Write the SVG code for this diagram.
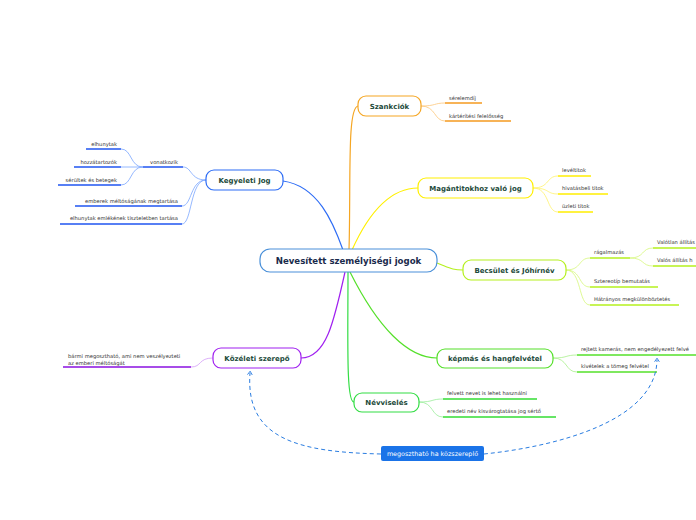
<svg xmlns="http://www.w3.org/2000/svg" width="696" height="520" viewBox="0 0 696 520">
<defs>
<style>
.node{fill:#fff;stroke-width:1.2}
.nt{font-family:"DejaVu Sans",Verdana,sans-serif;font-weight:bold;font-size:7px;fill:#1c4a3a;text-anchor:middle}
.ct{font-family:"DejaVu Sans",Verdana,sans-serif;font-size:5.2px;fill:#333}
.ctr{font-family:"DejaVu Sans",Verdana,sans-serif;font-size:5.2px;fill:#333;text-anchor:end}
.main{fill:none;stroke-width:1.2}
.sub{fill:none;stroke-width:0.8}
.ul{fill:none;stroke-width:1.5}
.dash{fill:none;stroke:#2a7de1;stroke-width:1;stroke-dasharray:4,3}
</style>
<marker id="arr" viewBox="0 0 10 10" refX="5" refY="5" markerWidth="6" markerHeight="6" orient="auto">
<path d="M2,1 L8,5 L2,9" fill="none" stroke="#2a7de1" stroke-width="1.5"/>
</marker>
</defs>
<rect width="696" height="520" fill="#fff"/>
<g id="connectors">
<path class="main" stroke="#2d6cf5" d="M283,181 C318,186 333,222 343,250"/>
<path class="main" stroke="#f5a623" d="M349,250 C351,180 347,108 358,106"/>
<path class="main" stroke="#fff000" d="M352,250 C370,210 392,188 418,188"/>
<path class="main" stroke="#b5f01e" d="M437,263 C450,268 452,270 463,270"/>
<path class="main" stroke="#55e02a" d="M350,272 C378,328 408,358 437,358"/>
<path class="main" stroke="#33dd44" d="M348,272 C348,340 346,402 354,402"/>
<path class="main" stroke="#a020f0" d="M345,272 C334,322 326,358 301,358"/>
<!-- Kegyeleti children -->
<g stroke="#7aa6ff" class="sub">
<path d="M206,180 C190,180 192,167 183,167"/>
<path d="M206,180 C190,180 192,206 182,206"/>
<path d="M206,180 C190,180 192,224 182,224"/>
<path d="M143,167 C130,167 132,149 121,149"/>
<path d="M143,167 L121,167"/>
<path d="M143,167 C130,167 132,185 121,185"/>
</g>
<g stroke="#1f55f0" class="ul">
<path d="M143,167 H183"/>
<path d="M75,206 H182"/>
<path d="M60,224 H182"/>
<path d="M86,149 H121"/>
<path d="M74,167 H121"/>
<path d="M58,185 H121"/>
</g>
<!-- Szankciók children -->
<g stroke="#fcc77a" class="sub">
<path d="M421,106 C436,106 434,103 445,103"/>
<path d="M421,106 C436,106 434,121 445,121"/>
</g>
<g stroke="#f59a1f" class="ul">
<path d="M445,103 H482"/>
<path d="M445,121 H511"/>
</g>
<!-- Magán children -->
<g stroke="#fff36a" class="sub">
<path d="M533,188 C550,188 546,176 558,176"/>
<path d="M533,188 C550,188 546,194 558,194"/>
<path d="M533,188 C550,188 546,212 558,212"/>
</g>
<g stroke="#ffee00" class="ul">
<path d="M558,176 H591"/>
<path d="M558,194 H608"/>
<path d="M558,212 H593"/>
</g>
<!-- Becsület children -->
<g stroke="#d5f77a" class="sub">
<path d="M566,270 C582,270 578,258 590,258"/>
<path d="M566,270 C582,270 578,287 590,287"/>
<path d="M566,270 C582,270 578,305 590,305"/>
<path d="M630,258 C645,258 641,248 653,248"/>
<path d="M630,258 C645,258 641,266 653,266"/>
</g>
<g stroke="#b5f01e" class="ul">
<path d="M590,258 H630"/>
<path d="M590,287 H658"/>
<path d="M590,305 H679"/>
<path d="M653,248 H696"/>
<path d="M653,266 H696"/>
</g>
<!-- Képmás children -->
<g stroke="#a8f08a" class="sub">
<path d="M553,358 C568,358 565,355 577,355"/>
<path d="M553,358 C568,358 565,372 577,372"/>
</g>
<g stroke="#55e02a" class="ul">
<path d="M577,355 H696"/>
<path d="M577,372 H657"/>
</g>
<!-- Névviselés children -->
<g stroke="#99ee99" class="sub">
<path d="M419,402 C434,402 431,399 443,399"/>
<path d="M419,402 C434,402 431,417 443,417"/>
</g>
<g stroke="#33dd33" class="ul">
<path d="M443,399 H537"/>
<path d="M443,417 H556"/>
</g>
<!-- Közéleti children -->
<path class="sub" stroke="#d39cf7" d="M213,358 C198,358 202,367 191,367"/>
<path class="ul" stroke="#8a10e0" d="M63,367 H191"/>
<!-- dashed relations -->
<path class="dash" d="M381,454 C300,452 245,440 250,373" marker-end="url(#arr)"/>
<path class="dash" d="M484,454 C560,446 656,420 657,360" marker-end="url(#arr)"/>
</g>
<g id="central">
<rect x="260" y="249" width="177" height="23" rx="10" fill="#fff" stroke="#4a90d9" stroke-width="1.2"/>
<text x="348.5" y="264" font-family="DejaVu Sans,Verdana,sans-serif" font-weight="bold" font-size="8.6" fill="#1a2b4c" text-anchor="middle">Nevesített személyiségi jogok</text>
</g>
<g id="kegyeleti">
<rect class="node" x="206" y="170" width="77" height="20" rx="8" stroke="#2d6cf5"/>
<text class="nt" x="244.5" y="182.5">Kegyeleti Jog</text>
</g>
<g id="kegyeleti-children">
<text class="ctr" x="178" y="164">vonatkozik</text>
<text class="ctr" x="117" y="146">elhunytak</text>
<text class="ctr" x="117" y="164">hozzátartozók</text>
<text class="ctr" x="117" y="182">sérültek és betegek</text>
<text class="ctr" x="178" y="203">emberek méltóságának megtartása</text>
<text class="ctr" x="178" y="220">elhunytak emlékének tiszteletben tartása</text>
</g>
<g id="szankciok">
<rect class="node" x="358" y="96" width="63" height="20" rx="8" stroke="#f5a623"/>
<text class="nt" x="389.5" y="108.5">Szankciók</text>
</g>
<g id="szankciok-children">
<text class="ct" x="449" y="100">sérelemdíj</text>
<text class="ct" x="449" y="118">kártérítési felelősség</text>
</g>
<g id="magantitok">
<rect class="node" x="418" y="178" width="115" height="20" rx="8" stroke="#fff000"/>
<text class="nt" x="475.5" y="190.5">Magántitokhoz való jog</text>
</g>
<g id="magantitok-children">
<text class="ct" x="562" y="172">levéltitok</text>
<text class="ct" x="562" y="190">hivatásbeli titok</text>
<text class="ct" x="562" y="208">üzleti titok</text>
</g>
<g id="becsulet">
<rect class="node" x="463" y="260" width="103" height="20" rx="8" stroke="#b5f01e"/>
<text class="nt" x="514.5" y="272.5">Becsület és Jóhírnév</text>
</g>
<g id="becsulet-children">
<text class="ct" x="594" y="254">rágalmazás</text>
<text class="ct" x="657" y="244">Valótlan állítás</text>
<text class="ct" x="657" y="262">Valós állítás h</text>
<text class="ct" x="594" y="283">Sztereotíp bemutatás</text>
<text class="ct" x="594" y="301">Hátrányos megkülönböztetés</text>
</g>
<g id="kepmas">
<rect class="node" x="437" y="349" width="116" height="19" rx="8" stroke="#55e02a"/>
<text class="nt" x="495" y="361">képmás és hangfelvétel</text>
</g>
<g id="kepmas-children">
<text class="ct" x="581" y="351">rejtett kamerás, nem engedélyezett felvé</text>
<text class="ct" x="581" y="368">kivételek a tömeg felvétel</text>
</g>
<g id="nevviseles">
<rect class="node" x="354" y="393" width="65" height="19" rx="8" stroke="#33dd44"/>
<text class="nt" x="386.5" y="405">Névviselés</text>
</g>
<g id="nevviseles-children">
<text class="ct" x="447" y="395">felvett nevet is lehet használni</text>
<text class="ct" x="447" y="413">eredeti név kisvárogtatása jog sértő</text>
</g>
<g id="kozeleti">
<rect class="node" x="213" y="348" width="88" height="20" rx="8" stroke="#a020f0"/>
<text class="nt" x="257" y="360.5">Közéleti szerepő</text>
</g>
<g id="kozeleti-children">
<text class="ct" x="68" y="358">bármi megosztható, ami nem veszélyezteti</text>
<text class="ct" x="68" y="364.5">az emberi méltóságát</text>
</g>
<g id="megoszthato">
<rect x="381" y="446" width="103" height="15" rx="2" fill="#1a73e8"/>
<text x="432.5" y="456" font-family="DejaVu Sans,Verdana,sans-serif" font-size="6.4" fill="#fff" text-anchor="middle">megosztható ha közszereplő</text>
</g>
</svg>
